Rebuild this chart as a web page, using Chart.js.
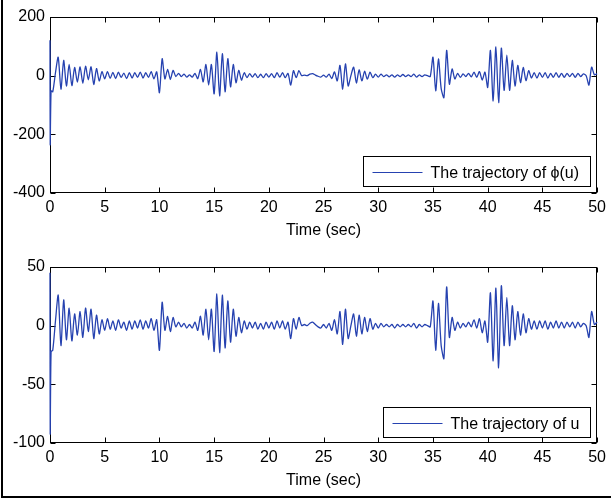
<!DOCTYPE html>
<html>
<head>
<meta charset="utf-8">
<script src="https://cdn.jsdelivr.net/npm/chart.js@4/dist/chart.umd.min.js"></script>
<style>
  body { margin: 0; background: #fff; }
  #wrap { position: relative; width: 611px; height: 501px; }
  #frame { position: absolute; left: 1px; top: 0; width: 610px; height: 496px; border-left: 2px solid #000; border-bottom: 2px solid #000; }
  canvas { position: absolute; left: 0; }
</style>
</head>
<body>
<div id="wrap">
  <div id="frame"></div>
  <canvas id="phiChart" width="611" height="250" style="top:0"></canvas>
  <canvas id="uChart" width="611" height="250" style="top:250px"></canvas>
</div>
<script>
// sample spacing of the traces (sec)
const dt = 0.25;
// initial spike at t = 0
const tStart = [0, 0.02, 0.1];
const uStart = [45, -92, -22];
const phiStart = [121, -235, -52];

// u at t = 0.25, 0.5, ... 50
const uVals = [
  -21, 4, 26, -17,   22, -12, 15, -13,   10, -8, 12, -10,   15, -5, 14, -11,
  9, -7, 5, -4,      6, -3, 4, -4,       5, -2, 3, -4,      4, -3, 4, -2,
  5, -3, 4, -2,      6, -4, 5, -21,      20, -4, 8, -5,     7, -1, 3, -1,
  2, -2, 1, -2,      3, -4, 8, -8,       14, -12, 14, -22,  27, -23, 26, -19,
  21, -14, 14, -9,   7, -6, 4, -3,       3, -2, 3, -3,      2, -3, 3, -2,
  3, -3, 4, -2,      4, -3, 3, -11,      6, -3, 7, 0,       1, 0, 2, 3,
  1, -1, -2, 1,      -2, 2, -4, 5,       -7, 12, -16, 14,   -11, 0, 10, -9,
  9, -7, 7, -5,      6, -3, 2, -2,       2, -1, 1, -1,      1, -2, 1, -1,
  1, -1, 1, -1,      2, -2, 1, -1,       1, 0, -1, 21,      -21, 19, -17, -28,
  33, -10, 7, -4,    3, -2, 2, -1,       3, -1, 5, -2,      6, -6, 4, -14,
  28, -30, 32, -36,  34, -17, 24, -17,   17, -12, 12, -8,   10, -6, 6, -3,
  4, -3, 4, -2,      4, -3, 3, -2,       4, -2, 3, -2,      3, -1, 3, -2,
  3, -1, 2, 0,       -10, 12, 1, 3
];

// phi(u) at the same times
const phiVals = [
  -55, 10, 63, -46,  52, -35, 38, -34,   28, -22, 30, -26,  32, -14, 30, -30,
  24, -18, 14, -11,  14, -9, 11, -10,    12, -6, 9, -10,    10, -8, 10, -6,
  12, -8, 10, -6,    14, -11, 13, -58,   58, -11, 21, -13,  18, -3, 8, -3,
  5, -5, 3, -5,      8, -10, 21, -21,    38, -32, 38, -62,  80, -69, 75, -55,
  58, -38, 38, -24,  18, -15, 10, -7,    7, -5, 7, -7,      5, -7, 7, -5,
  7, -7, 10, -5,     10, -7, 8, -32,     17, -7, 17, 0,     2, 0, 5, 7,
  2, -2, -5, 2,      -5, 5, -10, 13,     -18, 35, -46, 40,  -35, 0, 29, -25,
  20, -18, 15, -12,  12, -7, 5, -5,      5, -3, 3, -4,      3, -5, 3, -3,
  4, -3, 3, -3,      5, -5, 3, -3,       3, 0, -3, 63,      -52, 57, -44, -75,
  86, -29, 23, -11,  8, -6, 6, -3,       8, -4, 12, -6,     14, -15, 12, -40,
  86, -86, 98, -92,  94, -50, 70, -50,   52, -35, 35, -24,  28, -17, 17, -8,
  10, -8, 10, -6,    10, -8, 8, -6,      10, -6, 8, -6,     8, -3, 8, -6,
  8, -3, 6, 0,       -32, 29, 3, 7
];

const xTicks = [0, 5, 10, 15, 20, 25, 30, 35, 40, 45, 50];
const phiTicks = [-400, -200, 0, 200];
const uTicks = [-100, -50, 0, 50];

function toPoints(startVals, vals) {
  const pts = tStart.map((t, i) => ({ x: t, y: startVals[i] }));
  vals.forEach((v, i) => pts.push({ x: (i + 1) * dt, y: v }));
  return pts;
}

const FONT = "'Liberation Sans', Arial, Helvetica, sans-serif";
const LINE = '#2642b0';

function edges(a) {
  return {
    L: Math.round(a.left) + 0.5, R: Math.round(a.right) - 0.5,
    T: Math.round(a.top) + 0.5, B: Math.round(a.bottom) - 0.5
  };
}

// MATLAB-like box with inward ticks (under the trace), legend on top
const boxPlugin = {
  id: 'matBox',
  beforeDatasetsDraw(chart, args, opts) {
    const { ctx, scales } = chart;
    const { L, R, T, B } = edges(chart.chartArea);
    ctx.save();
    ctx.strokeStyle = '#000';
    ctx.lineWidth = 1;
    ctx.strokeRect(L, T, R - L, B - T);
    ctx.beginPath();
    opts.xTicks.forEach(v => {
      const px = Math.round(scales.x.getPixelForValue(v)) + 0.5;
      ctx.moveTo(px, B); ctx.lineTo(px, B - 5);
      ctx.moveTo(px, T); ctx.lineTo(px, T + 5);
    });
    opts.yTicks.forEach(v => {
      const py = Math.round(scales.y.getPixelForValue(v)) + 0.5;
      ctx.moveTo(L, py); ctx.lineTo(L + 5, py);
      ctx.moveTo(R, py); ctx.lineTo(R - 5, py);
    });
    ctx.stroke();
    ctx.restore();
  },
  afterDraw(chart, args, opts) {
    const { ctx } = chart;
    const { R, B } = edges(chart.chartArea);
    const lg = opts.legend;
    const bx = R - lg.right - lg.width, by = B - lg.bottom - lg.height;
    ctx.save();
    ctx.fillStyle = '#fff';
    ctx.strokeStyle = '#000';
    ctx.lineWidth = 1;
    ctx.fillRect(bx, by, lg.width, lg.height);
    ctx.strokeRect(bx, by, lg.width, lg.height);
    const cy = Math.round(by + lg.height / 2) + 0.5;
    ctx.strokeStyle = LINE;
    ctx.beginPath();
    ctx.moveTo(bx + 9, cy); ctx.lineTo(bx + 59, cy);
    ctx.stroke();
    ctx.fillStyle = '#000';
    ctx.font = '16px ' + FONT;
    ctx.textBaseline = 'middle';
    ctx.fillText(lg.text, bx + 67, cy + 1);
    ctx.restore();
  }
};

function makeChart(id, pts, yMin, yMax, yStep, yTicks, legend) {
  return new Chart(document.getElementById(id).getContext('2d'), {
    type: 'line',
    data: {
      datasets: [{
        data: pts,
        borderColor: LINE,
        borderWidth: 1.3,
        pointRadius: 0,
        tension: 0.25,
        fill: false,
        clip: false
      }]
    },
    options: {
      responsive: false,
      animation: false,
      devicePixelRatio: 1,
      layout: { padding: { left: 0, right: 12, top: 17, bottom: 0 } },
      plugins: {
        legend: { display: false },
        tooltip: { enabled: false },
        matBox: { xTicks: xTicks, yTicks: yTicks, legend: legend }
      },
      scales: {
        x: {
          type: 'linear', min: 0, max: 50,
          grid: { display: false, drawTicks: false },
          border: { display: false },
          ticks: { stepSize: 5, padding: 5, color: '#000', font: { family: FONT, size: 16 }, maxRotation: 0 },
          title: { display: true, text: 'Time (sec)', color: '#000', font: { family: FONT, size: 16 }, padding: { top: 0, bottom: 10 } },
          afterFit: s => { s.height = 57; }
        },
        y: {
          min: yMin, max: yMax,
          grid: { display: false, drawTicks: false },
          border: { display: false },
          ticks: { stepSize: yStep, padding: 5, color: '#000', font: { family: FONT, size: 16 } },
          afterFit: s => { s.width = 50; }
        }
      }
    },
    plugins: [boxPlugin]
  });
}

makeChart('phiChart', toPoints(phiStart, phiVals), -400, 200, 200, phiTicks,
  { text: 'The trajectory of \u03D5(u)', width: 227, height: 30, right: 6, bottom: 6 });
makeChart('uChart', toPoints(uStart, uVals), -100, 50, 50, uTicks,
  { text: 'The trajectory of u', width: 207, height: 30, right: 6, bottom: 5 });
</script>
</body>
</html>
